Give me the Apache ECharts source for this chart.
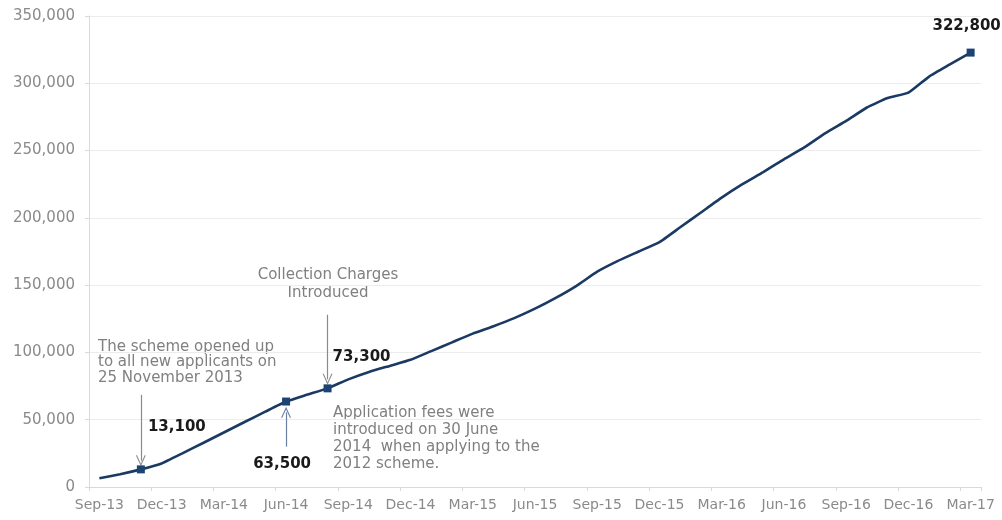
<!DOCTYPE html>
<html>
<head>
<meta charset="utf-8">
<title>Cumulative applications</title>
<script src="https://cdn.jsdelivr.net/npm/echarts@6/dist/echarts.min.js"></script>
<style>
  html, body { margin: 0; padding: 0; background: #ffffff; }
  #chart { width: 1002px; height: 520px; }
</style>
</head>
<body>
<div id="chart"></div>
<script>
// Monthly categories, Sep 2013 to Mar 2017
const months = [
  'Sep-13','Oct-13','Nov-13','Dec-13','Jan-14','Feb-14','Mar-14','Apr-14','May-14','Jun-14','Jul-14','Aug-14',
  'Sep-14','Oct-14','Nov-14','Dec-14','Jan-15','Feb-15','Mar-15','Apr-15','May-15','Jun-15','Jul-15','Aug-15',
  'Sep-15','Oct-15','Nov-15','Dec-15','Jan-16','Feb-16','Mar-16','Apr-16','May-16','Jun-16','Jul-16','Aug-16',
  'Sep-16','Oct-16','Nov-16','Dec-16','Jan-17','Feb-17','Mar-17'
];

// Cumulative total at the end of each month
const cumulative = [
  6500, 9500, 13100, 17500, 25000, 32700, 40500, 48300, 56000, 63500, 68500, 73300,
  80000, 85500, 90000, 94500, 101000, 107500, 114000, 119500, 125500, 132500, 140500, 149500,
  160000, 168000, 175000, 182000, 193000, 204000, 215000, 225000, 234000, 243500, 252500, 263000,
  272000, 282000, 289000, 293000, 305000, 314000, 322800
];

// Highlighted months with their value label offsets
const highlighted = ['Nov-13', 'Jun-14', 'Aug-14', 'Mar-17'];
const labelOffsets = [[36, -42], [-4, 63], [34, -31], [-4, -26]];

// Y-axis ticks
const yTicks = [0, 50000, 100000, 150000, 200000, 250000, 300000, 350000];

// Annotation arrows: [month, from value, to value, colour]
const arrows = [
  ['Nov-13', 68500, 19500, '#8a8a8a'],
  ['Aug-14', 128000, 80000, '#8a8a8a'],
  ['Jun-14', 30000, 55500, '#6c7fa3']
];

const fmt = v => v.toLocaleString('en-GB');
const FONT = '"DejaVu Sans", "Liberation Sans", Arial, sans-serif';
const LINE = '#1b3a63';
const MARK = '#1d4373';

const seriesData = cumulative.map((v, i) => {
  const k = highlighted.indexOf(months[i]);
  if (k < 0) return { value: v, symbol: 'none' };
  return {
    value: v,
    symbol: 'rect',
    symbolSize: 8,
    itemStyle: { color: MARK },
    label: {
      show: true,
      position: 'inside',
      offset: labelOffsets[k],
      formatter: p => fmt(p.value),
      color: '#1a1a1a',
      fontWeight: 'bold',
      fontSize: 15,
      fontFamily: FONT
    }
  };
});

// Open chevron arrow head, tip at the top
const chevron = 'path://M0,11 L5,0 L10,11 L8.8,11 L5,2.6 L1.2,11 Z';

const arrowLines = arrows.map(a => [
  { coord: [a[0], a[1]], symbol: 'none', lineStyle: { color: a[3], width: 1.2, type: 'solid' } },
  { coord: [a[0], a[2]], symbol: chevron, symbolSize: [10, 11] }
]);

const chart = echarts.init(document.getElementById('chart'), null, { renderer: 'canvas' });

chart.setOption({
  animation: false,
  backgroundColor: '#ffffff',
  grid: { left: 89, right: 21, top: 16, bottom: 33, containLabel: false },
  xAxis: {
    type: 'category',
    data: months,
    boundaryGap: true,
    axisLine: { lineStyle: { color: '#d9d9d9', width: 1 } },
    axisTick: { show: true, interval: 2, length: 4, lineStyle: { color: '#d9d9d9' } },
    axisLabel: { interval: 2, color: '#8a8a8a', fontSize: 14, fontFamily: FONT, margin: 11 },
    splitLine: { show: false }
  },
  yAxis: {
    type: 'value',
    min: yTicks[0],
    max: yTicks[yTicks.length - 1],
    interval: yTicks[1] - yTicks[0],
    axisLine: { show: true, lineStyle: { color: '#d9d9d9', width: 1 } },
    axisTick: { show: true, length: 4, lineStyle: { color: '#d9d9d9' } },
    axisLabel: { color: '#8a8a8a', fontSize: 15, fontFamily: FONT, margin: 14, formatter: v => fmt(v) },
    splitLine: { show: true, lineStyle: { color: '#ececec', width: 1 } }
  },
  series: [{
    type: 'line',
    data: seriesData,
    symbol: 'none',
    showSymbol: true,
    smooth: 0.15,
    lineStyle: { color: LINE, width: 2.6 },
    itemStyle: { color: MARK },
    z: 3,
    markLine: {
      silent: true,
      symbol: ['none', chevron],
      symbolSize: [10, 11],
      label: { show: false },
      data: arrowLines,
      z: 2
    }
  }],
  graphic: [
    {
      type: 'text', x: 98, y: 339,
      style: {
        text: 'The scheme opened up\nto all new applicants on\n25 November 2013',
        fill: '#808080', font: '15px ' + FONT, lineHeight: 15.5, align: 'left', verticalAlign: 'top'
      }
    },
    {
      type: 'text', x: 328, y: 266,
      style: {
        text: 'Collection Charges\nIntroduced',
        fill: '#808080', font: '15px ' + FONT, lineHeight: 18, align: 'center', verticalAlign: 'top'
      }
    },
    {
      type: 'text', x: 333, y: 404,
      style: {
        text: 'Application fees were\nintroduced on 30 June\n2014  when applying to the\n2012 scheme.',
        fill: '#808080', font: '15px ' + FONT, lineHeight: 17.3, align: 'left', verticalAlign: 'top'
      }
    }
  ]
});
</script>
</body>
</html>
